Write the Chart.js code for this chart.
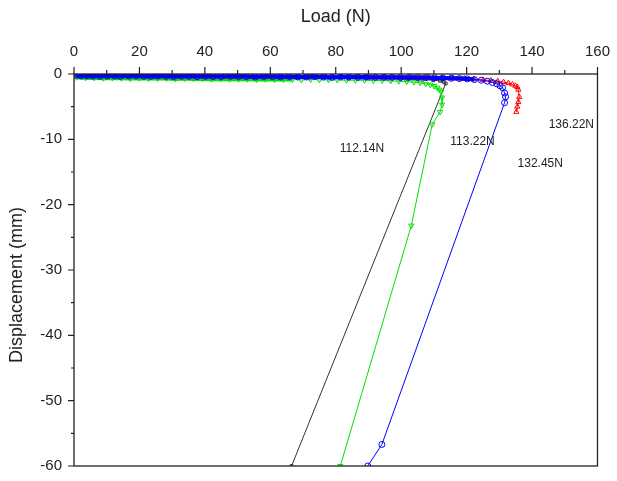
<!DOCTYPE html>
<html>
<head>
<meta charset="utf-8">
<script src="https://cdn.jsdelivr.net/npm/chart.js@4.4.0/dist/chart.umd.min.js"></script>
<style>
  html, body { margin: 0; padding: 0; background: #fff; }
</style>
</head>
<body>
<canvas id="mychart" width="617" height="481"></canvas>
<script>
// tick values
const xTicks = [0, 20, 40, 60, 80, 100, 120, 140, 160];
const xMinor = [10, 30, 50, 70, 90, 110, 130, 150];
const yTicks = [0, -10, -20, -30, -40, -50, -60];
const yMinor = [-5, -15, -25, -35, -45, -55];

// 132.45N curve (blue circles)
const blueLoad = [0.5, 2.1, 4.0, 5.8, 7.9, 10.2, 12.4, 14.1, 16.8, 19.0, 21.3, 23.5, 25.6, 28.2, 30.4, 32.9, 35.1, 37.6, 40.2, 42.5, 45.0, 47.8, 50.3, 52.6, 55.4, 58.0, 60.7, 63.1, 65.9, 68.4, 71.0, 73.6, 76.2, 78.9, 81.5, 84.0, 86.8, 89.3, 92.1, 94.7, 97.2, 99.8, 102.5, 105.1, 107.6, 110.2, 112.7, 115.3, 117.8, 120.2, 122.4, 124.5, 126.3, 127.9, 129.2, 130.2, 131.0, 131.6, 131.9, 131.6, 94.1, 89.8];
const blueDisp = [-0.2, -0.3, -0.25, -0.3, -0.35, -0.3, -0.3, -0.35, -0.3, -0.3, -0.35, -0.35, -0.3, -0.35, -0.4, -0.35, -0.35, -0.4, -0.35, -0.4, -0.4, -0.35, -0.4, -0.4, -0.45, -0.4, -0.4, -0.45, -0.4, -0.45, -0.45, -0.4, -0.45, -0.5, -0.45, -0.45, -0.5, -0.45, -0.5, -0.5, -0.5, -0.55, -0.5, -0.55, -0.55, -0.6, -0.6, -0.65, -0.7, -0.75, -0.85, -0.95, -1.1, -1.3, -1.5, -1.8, -2.1, -2.9, -3.5, -4.4, -56.7, -60];

// 113.22N curve (green triangles)
const greenLoad = [0.8, 3.5, 6.2, 9.0, 11.7, 14.5, 17.2, 20.0, 22.8, 25.5, 28.3, 31.0, 33.8, 36.5, 39.3, 42.0, 44.8, 47.5, 50.3, 53.0, 55.8, 58.5, 61.3, 64.0, 66.8, 69.5, 72.3, 75.0, 77.8, 80.5, 83.3, 86.0, 88.8, 91.5, 94.2, 96.8, 99.3, 101.7, 103.9, 105.8, 107.5, 108.9, 110.1, 111.0, 111.7, 112.2, 112.5, 112.5, 111.9, 109.5, 103.1, 81.4];
const greenDisp = [-0.5, -0.6, -0.6, -0.65, -0.6, -0.65, -0.7, -0.65, -0.7, -0.7, -0.7, -0.75, -0.7, -0.75, -0.75, -0.8, -0.75, -0.8, -0.8, -0.8, -0.85, -0.8, -0.85, -0.85, -0.85, -0.9, -0.85, -0.9, -0.9, -0.9, -0.95, -0.95, -0.95, -1.0, -1.0, -1.05, -1.1, -1.15, -1.25, -1.35, -1.5, -1.65, -1.85, -2.1, -2.4, -2.7, -3.6, -4.7, -5.8, -7.7, -23.2, -60];

// 136.22N curve (red triangles)
const redLoad = [1.0, 5.0, 9.5, 14.0, 18.5, 23.0, 27.5, 32.0, 36.5, 41.0, 45.5, 50.0, 54.5, 59.0, 63.5, 68.0, 72.5, 77.0, 81.5, 86.0, 90.5, 95.0, 99.5, 104.0, 108.5, 112.5, 116.0, 119.3, 122.3, 125.0, 127.4, 129.5, 131.3, 132.8, 134.0, 134.9, 135.5, 135.8, 136.1, 135.8, 135.5, 135.2];
const redDisp = [-0.2, -0.25, -0.3, -0.3, -0.3, -0.35, -0.3, -0.35, -0.35, -0.35, -0.4, -0.35, -0.4, -0.4, -0.4, -0.45, -0.4, -0.45, -0.45, -0.45, -0.5, -0.5, -0.5, -0.55, -0.55, -0.6, -0.65, -0.7, -0.8, -0.9, -1.0, -1.1, -1.25, -1.4, -1.6, -1.8, -2.0, -2.4, -3.5, -4.3, -5.0, -5.8];

// 112.14N curve (black squares)
const blackLoad = [0.5, 6.0, 12.0, 18.0, 24.0, 30.0, 36.0, 42.0, 48.0, 54.0, 60.0, 66.0, 72.0, 78.0, 84.0, 90.0, 96.0, 102.0, 106.5, 109.8, 111.9, 113.0, 113.6, 66.5];
const blackDisp = [-0.3, -0.35, -0.4, -0.4, -0.45, -0.45, -0.5, -0.5, -0.55, -0.55, -0.6, -0.6, -0.65, -0.65, -0.7, -0.7, -0.75, -0.8, -0.85, -0.95, -1.05, -1.2, -1.45, -60];

// peak load labels
const peakText = ['112.14N', '113.22N', '136.22N', '132.45N'];
const peakAt = [[88, -11.5], [121.8, -10.3], [152, -7.75], [142.5, -13.7]];

const FONT = "'Liberation Sans', Arial, sans-serif";

function pts(xs, ys) {
  return xs.map((x, i) => ({ x: x, y: ys[i] }));
}

// 枠・目盛・ラベル
const decor = {
  id: 'decor',
  afterDraw(chart) {
    const c = chart.ctx;
    const a = chart.chartArea;
    const sx = chart.scales.x;
    const sy = chart.scales.y;
    c.save();
    c.strokeStyle = '#222';
    c.lineWidth = 1.3;
    c.strokeRect(a.left, a.top, a.right - a.left, a.bottom - a.top);
    c.lineWidth = 1.2;
    c.beginPath();
    xTicks.forEach(v => { const p = sx.getPixelForValue(v); c.moveTo(p, a.top); c.lineTo(p, a.top - 7); });
    xMinor.forEach(v => { const p = sx.getPixelForValue(v); c.moveTo(p, a.top); c.lineTo(p, a.top - 4); });
    yTicks.forEach(v => { const p = sy.getPixelForValue(v); c.moveTo(a.left, p); c.lineTo(a.left - 6, p); });
    yMinor.forEach(v => { const p = sy.getPixelForValue(v); c.moveTo(a.left, p); c.lineTo(a.left - 3, p); });
    c.stroke();

    c.fillStyle = '#222';
    c.textAlign = 'center';
    c.textBaseline = 'middle';
    c.font = '12px ' + FONT;
    peakText.forEach((t, i) => {
      c.fillText(t, sx.getPixelForValue(peakAt[i][0]), sy.getPixelForValue(peakAt[i][1]));
    });

    c.font = '18px ' + FONT;
    c.fillText('Load (N)', (a.left + a.right) / 2, 17);
    c.translate(17, 285);
    c.rotate(-Math.PI / 2);
    c.fillText('Displacement (mm)', 0, 0);
    c.restore();
  }
};

// band = 荷重ゼロ付近の密集マーカーの太さ
function series(label, data, color, style, rot, r, band) {
  return {
    label: label,
    data: data,
    showLine: true,
    borderColor: color,
    borderWidth: 1,
    segment: {
      borderWidth: s => (s.p0.parsed.y > -0.9 && s.p1.parsed.y > -0.9) ? band : 1
    },
    pointStyle: style,
    pointRotation: rot,
    pointRadius: r,
    pointBorderWidth: 1,
    pointBorderColor: color,
    pointBackgroundColor: 'rgba(0,0,0,0)',
    backgroundColor: 'rgba(0,0,0,0)'
  };
}

let ctx = document.getElementById('mychart');
let myChart = new Chart(ctx, {
  type: 'scatter',
  data: {
    datasets: [
      series('132.45N', pts(blueLoad, blueDisp), '#0000ff', 'circle', 0, 3, 4),
      series('136.22N', pts(redLoad, redDisp), '#ff0000', 'triangle', 0, 3, 4),
      series('113.22N', pts(greenLoad, greenDisp), '#00e000', 'triangle', 180, 3, 4),
      series('112.14N', pts(blackLoad, blackDisp), '#333333', 'rect', 0, 2, 1)
    ]
  },
  plugins: [decor],
  options: {
    responsive: false,
    animation: false,
    layout: { padding: { top: 0, left: 0, right: 14, bottom: 12 } },
    plugins: { legend: { display: false }, tooltip: { enabled: false } },
    scales: {
      x: {
        type: 'linear',
        position: 'top',
        min: 0,
        max: 160,
        afterBuildTicks: s => { s.ticks = xTicks.map(v => ({ value: v })); },
        afterFit: s => { s.height = 74; },
        ticks: { font: { family: FONT, size: 15 }, color: '#222', padding: 7, maxRotation: 0 },
        grid: { drawOnChartArea: false, tickLength: 6, tickColor: 'rgba(0,0,0,0)' },
        border: { display: false }
      },
      y: {
        type: 'linear',
        min: -60,
        max: 0,
        afterBuildTicks: s => { s.ticks = yTicks.map(v => ({ value: v })); },
        afterFit: s => { s.width = 74; },
        ticks: { font: { family: FONT, size: 15 }, color: '#222', padding: 6 },
        grid: { drawOnChartArea: false, tickLength: 6, tickColor: 'rgba(0,0,0,0)' },
        border: { display: false }
      }
    }
  }
});
</script>
</body>
</html>
